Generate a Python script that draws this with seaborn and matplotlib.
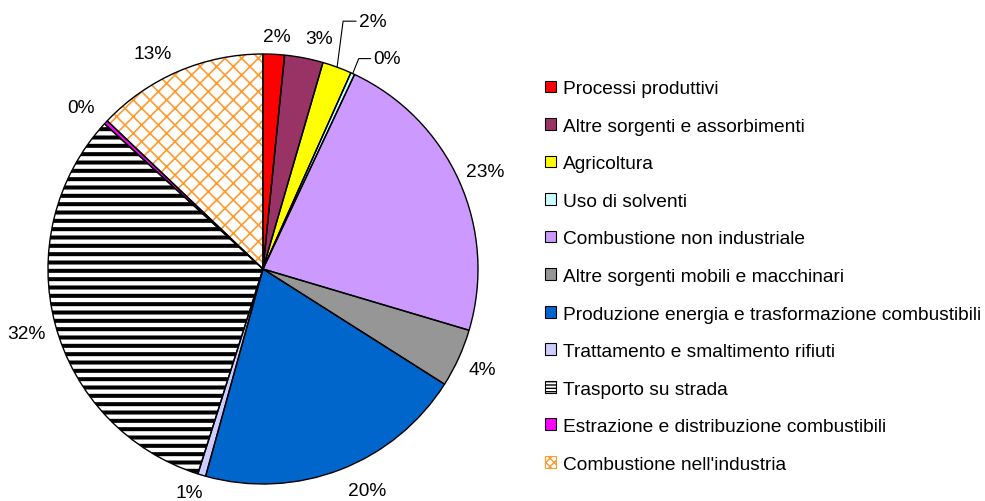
import numpy as np
import matplotlib
matplotlib.use("Agg")
import matplotlib.pyplot as plt
import matplotlib.patches as mpatches
import seaborn as sns

# Emission shares by source sector (percent)
categories = [
    "Processi produttivi",
    "Altre sorgenti e assorbimenti",
    "Agricoltura",
    "Uso di solventi",
    "Combustione non industriale",
    "Altre sorgenti mobili e macchinari",
    "Produzione energia e trasformazione combustibili",
    "Trattamento e smaltimento rifiuti",
    "Trasporto su strada",
    "Estrazione e distribuzione combustibili",
    "Combustione nell'industria",
]
shares = [1.6, 2.9, 2.2, 0.3, 22.6, 4.4, 20.3, 0.6, 31.9, 0.3, 12.9]

# Styling
face_colors = ["#FF0000", "#993366", "#FFFF00", "#CCFFFF", "#CC99FF", "#969696",
               "#0066CC", "#CCCCFF", "#FFFFFF", "#FF00FF", "#FFFFFF"]
hatches = [None] * 8 + ["--", None, "xx"]
legend_hatches = [None] * 8 + ["-----", None, "xxxx"]
hatch_colors = [None] * 8 + ["#000000", None, "#FF9A2E"]
hatch_widths = [None] * 8 + [2.9, None, 1.2]
leader_labels = {2: (6, 46, 22), 3: (6, 15, 21)}  # idx: (kink dx, rise, text dx) in px
label_nudge = {0: (2, -3), 1: (11, -5), 4: (1, -3), 5: (4, 5), 6: (17, 7),
               7: (-6, 3), 8: (-3, 5), 9: (-9, -4), 10: (-15, -4)}  # px, y down

sns.set_theme(style="white")
plt.rcParams["font.family"] = ["Liberation Sans", "DejaVu Sans"]
plt.rcParams["text.color"] = "black"
plt.rcParams["hatch.linewidth"] = 1.0
FS = 13.8

W, H = 985, 502
fig = plt.figure(figsize=(W / 100, H / 100), dpi=100)
fig.patch.set_facecolor("white")

cx, cy, R = 263, 270, 215
ax = fig.add_axes([(cx - R) / W, (H - cy - R) / H, 2 * R / W, 2 * R / H])

wedges, _ = ax.pie(shares, colors=face_colors, startangle=90, counterclock=False,
                   wedgeprops=dict(linewidth=0))
for w, h, hc, hw in zip(wedges, hatches, hatch_colors, hatch_widths):
    if h:
        w.set_hatch(h)
        w.set_edgecolor(hc)
        if hasattr(w, "set_hatch_linewidth"):
            w.set_hatch_linewidth(hw)

# Black outlines on top of the fills
ax.pie(shares, colors=["none"] * len(shares), startangle=90, counterclock=False,
       wedgeprops=dict(linewidth=1.0, edgecolor="black", facecolor="none"))

ax.set_xlim(-1, 1)
ax.set_ylim(-1, 1)
ax.set_aspect("equal")
ax.axis("off")

px = 1.0 / R  # one pixel in data units
fpx = FS * 100 / 72
gap = 8
for i, w in enumerate(wedges):
    lab = f"{round(shares[i]):d}%"
    mid = np.deg2rad((w.theta1 + w.theta2) / 2)
    ux, uy = np.cos(mid), np.sin(mid)
    if i in leader_labels:
        kdx, rise, tdx = leader_labels[i]
        x0, y0 = ux, uy
        xk, yk = x0 + kdx * px, y0 + rise * px
        xe = x0 + (tdx - 3) * px
        ax.plot([x0, xk, xe], [y0, yk, yk], color="black", lw=0.8, clip_on=False)
        ax.text(x0 + tdx * px, yk, lab, ha="left", va="center", fontsize=FS,
                clip_on=False)
        continue
    tw = (0.556 * (len(lab) - 1) + 0.889) * fpx
    th = 0.75 * fpx
    ndx, ndy = label_nudge.get(i, (0, 0))
    tx = ux * (1 + gap * px) + ux * tw / 2 * px + ndx * px
    ty = uy * (1 + gap * px) + uy * th / 2 * px - ndy * px
    ax.text(tx, ty, lab, ha="center", va="center", fontsize=FS, clip_on=False)

handles = []
for c, h, hc, hw in zip(face_colors, legend_hatches, hatch_colors, hatch_widths):
    p = mpatches.Patch(facecolor=c, edgecolor=hc if hc else "black",
                       hatch=h, linewidth=0.8)
    if h and hasattr(p, "set_hatch_linewidth"):
        p.set_hatch_linewidth(min(hw, 1.8))
    handles.append(p)
fig.legend(handles, categories, loc="center left",
           bbox_to_anchor=(545 / W, 1 - 277.5 / H), frameon=False, fontsize=FS,
           handlelength=0.55, handleheight=0.55, handletextpad=0.4,
           labelspacing=1.07, borderpad=0, borderaxespad=0)

fig.savefig("out.png", dpi=100, facecolor="white")
